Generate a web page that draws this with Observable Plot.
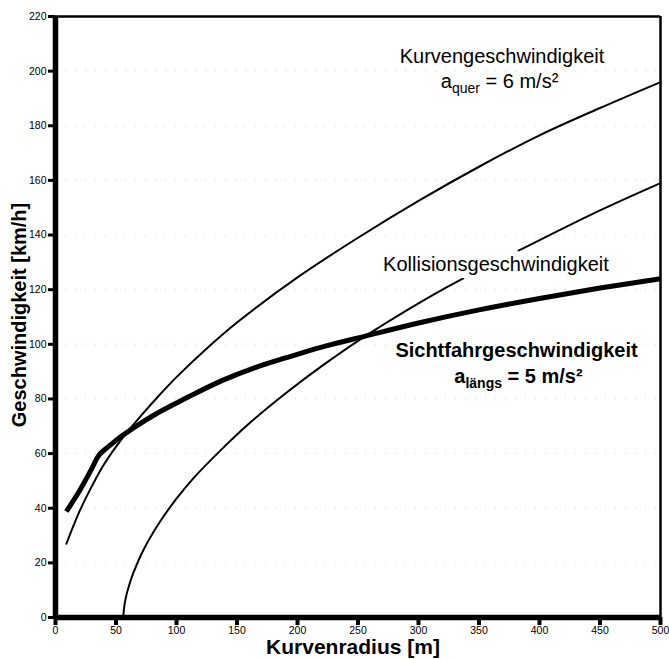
<!DOCTYPE html>
<html>
<head>
<meta charset="utf-8">
<script src="https://cdn.jsdelivr.net/npm/d3@7"></script>
<script src="https://cdn.jsdelivr.net/npm/@observablehq/plot@0.6"></script>
<style>
  html, body { margin: 0; padding: 0; background: #fff; }
</style>
</head>
<body>
<div id="chart"></div>
<script>
// Axis ticks
const xTicks = [0, 50, 100, 150, 200, 250, 300, 350, 400, 450, 500];
const yTicks = [0, 20, 40, 60, 80, 100, 120, 140, 160, 180, 200, 220];

// Kurvengeschwindigkeit (a_quer = 6 m/s²)
const kurvenR = [9, 20, 30, 40, 55, 70, 85, 100, 125, 150, 200, 250, 300, 350, 400, 450, 500];
const kurvenV = [27, 39, 48, 56, 65.5, 73.5, 81, 88, 98.5, 108, 124.5, 139, 152.5, 165, 176.5, 186.5, 196];

// Kollisionsgeschwindigkeit
const kollR = [56, 57, 58.5, 61, 64.5, 73, 87, 100, 113, 136, 160, 190, 220, 256, 300, 330, 386, 450, 500];
const kollV = [0, 4.5, 8, 12, 16.5, 25, 35.5, 43.5, 50.5, 61, 71, 82, 92, 103, 115, 122.5, 135, 149, 159];

// Sichtfahrgeschwindigkeit (a_längs = 5 m/s²)
const sichtR = [9, 20, 30, 36, 45, 55, 70, 83, 100, 110, 138, 165, 190, 220, 256, 300, 350, 400, 450, 500];
const sichtV = [38.8, 46.5, 54.5, 59.5, 63, 66.5, 71, 74.5, 78.5, 80.8, 86.8, 91.5, 95, 99, 103, 107.8, 112.6, 116.8, 120.6, 124];

const toRows = (rs, vs) => rs.map((r, i) => ({r, v: vs[i]}));
const kurven = toRows(kurvenR, kurvenV);
const koll = toRows(kollR, kollV);
const sicht = toRows(sichtR, sichtV);

const font = "'Liberation Sans', Arial, Helvetica, sans-serif";

const svg = Plot.plot({
  width: 669,
  height: 659,
  marginLeft: 55,
  marginRight: 9,
  marginTop: 16,
  marginBottom: 42,
  x: {domain: [0, 500]},
  y: {domain: [0, 220]},
  style: {fontFamily: font, background: "#fff", color: "#000", overflow: "visible"},
  marks: [
    Plot.gridY(yTicks.slice(1, -1), {stroke: "#bbb", strokeOpacity: 0.6, strokeDasharray: "1 9"}),
    Plot.line(kurven, {x: "r", y: "v", stroke: "#000", strokeWidth: 2, curve: "catmull-rom"}),
    Plot.line(koll, {x: "r", y: "v", stroke: "#000", strokeWidth: 2, curve: "catmull-rom"}),
    Plot.line(sicht, {x: "r", y: "v", stroke: "#000", strokeWidth: 5, curve: "catmull-rom", strokeLinecap: "butt"}),
    Plot.text(["Kurvengeschwindigkeit"], {x: () => 369, y: () => 203, text: d => d, lineAnchor: "bottom", fontSize: 20, fill: "#000"}),
    Plot.text(["aquer = 6 m/s²"], {x: () => 367, y: () => 194, text: d => d, lineAnchor: "bottom", fontSize: 20, fill: "#000"}),
    Plot.text(["Kollisionsgeschwindigkeit"], {x: () => 364, y: () => 127, text: d => d, lineAnchor: "bottom", fontSize: 20, fill: "#000", stroke: "#fff", strokeWidth: 14}),
    Plot.text(["Sichtfahrgeschwindigkeit"], {x: () => 381, y: () => 95.2, text: d => d, lineAnchor: "bottom", fontSize: 20, fontWeight: "bold", fill: "#000"}),
    Plot.text(["alängs = 5 m/s²"], {x: () => 382.6, y: () => 86, text: d => d, lineAnchor: "bottom", fontSize: 20, fontWeight: "bold", fill: "#000"}),
    Plot.axisY({ticks: yTicks, tickSize: 7, tickPadding: 2, strokeWidth: 3, fontSize: 10.5, label: null}),
    Plot.axisX({ticks: xTicks, tickSize: 8, tickPadding: 1, strokeWidth: 4, fontSize: 10.5, label: null}),
    Plot.ruleX([0], {stroke: "#000", strokeWidth: 5.5}),
    Plot.ruleY([0], {stroke: "#000", strokeWidth: 5.5}),
    Plot.ruleY([220], {stroke: "#000", strokeWidth: 2.5}),
    Plot.ruleX([500], {stroke: "#000", strokeWidth: 2.5}),
    Plot.text(["Geschwindigkeit [km/h]"], {frameAnchor: "left", textAnchor: "middle", lineAnchor: "middle", text: d => d, rotate: -90, dx: -36, dy: -2, fontSize: 20, fontWeight: "bold", fill: "#000"}),
    Plot.text(["Kurvenradius [m]"], {frameAnchor: "bottom", text: d => d, lineAnchor: "bottom", dx: -5, dy: 36, fontSize: 21, fontWeight: "bold", fill: "#000"})
  ]
});

// subscripts
const subs = {
  "aquer = 6 m/s²": ["a", "quer", " = 6 m/s²"],
  "alängs = 5 m/s²": ["a", "längs", " = 5 m/s²"]
};
d3.select(svg).selectAll("text").each(function() {
  const t = this.textContent;
  if (subs[t]) {
    const [a, s, rest] = subs[t];
    const el = d3.select(this);
    el.text("");
    el.append("tspan").text(a);
    el.append("tspan").attr("font-size", 14).attr("dy", 5).text(s);
    el.append("tspan").attr("dy", -5).text(rest);
  }
});

document.getElementById("chart").appendChild(svg);
</script>
</body>
</html>
